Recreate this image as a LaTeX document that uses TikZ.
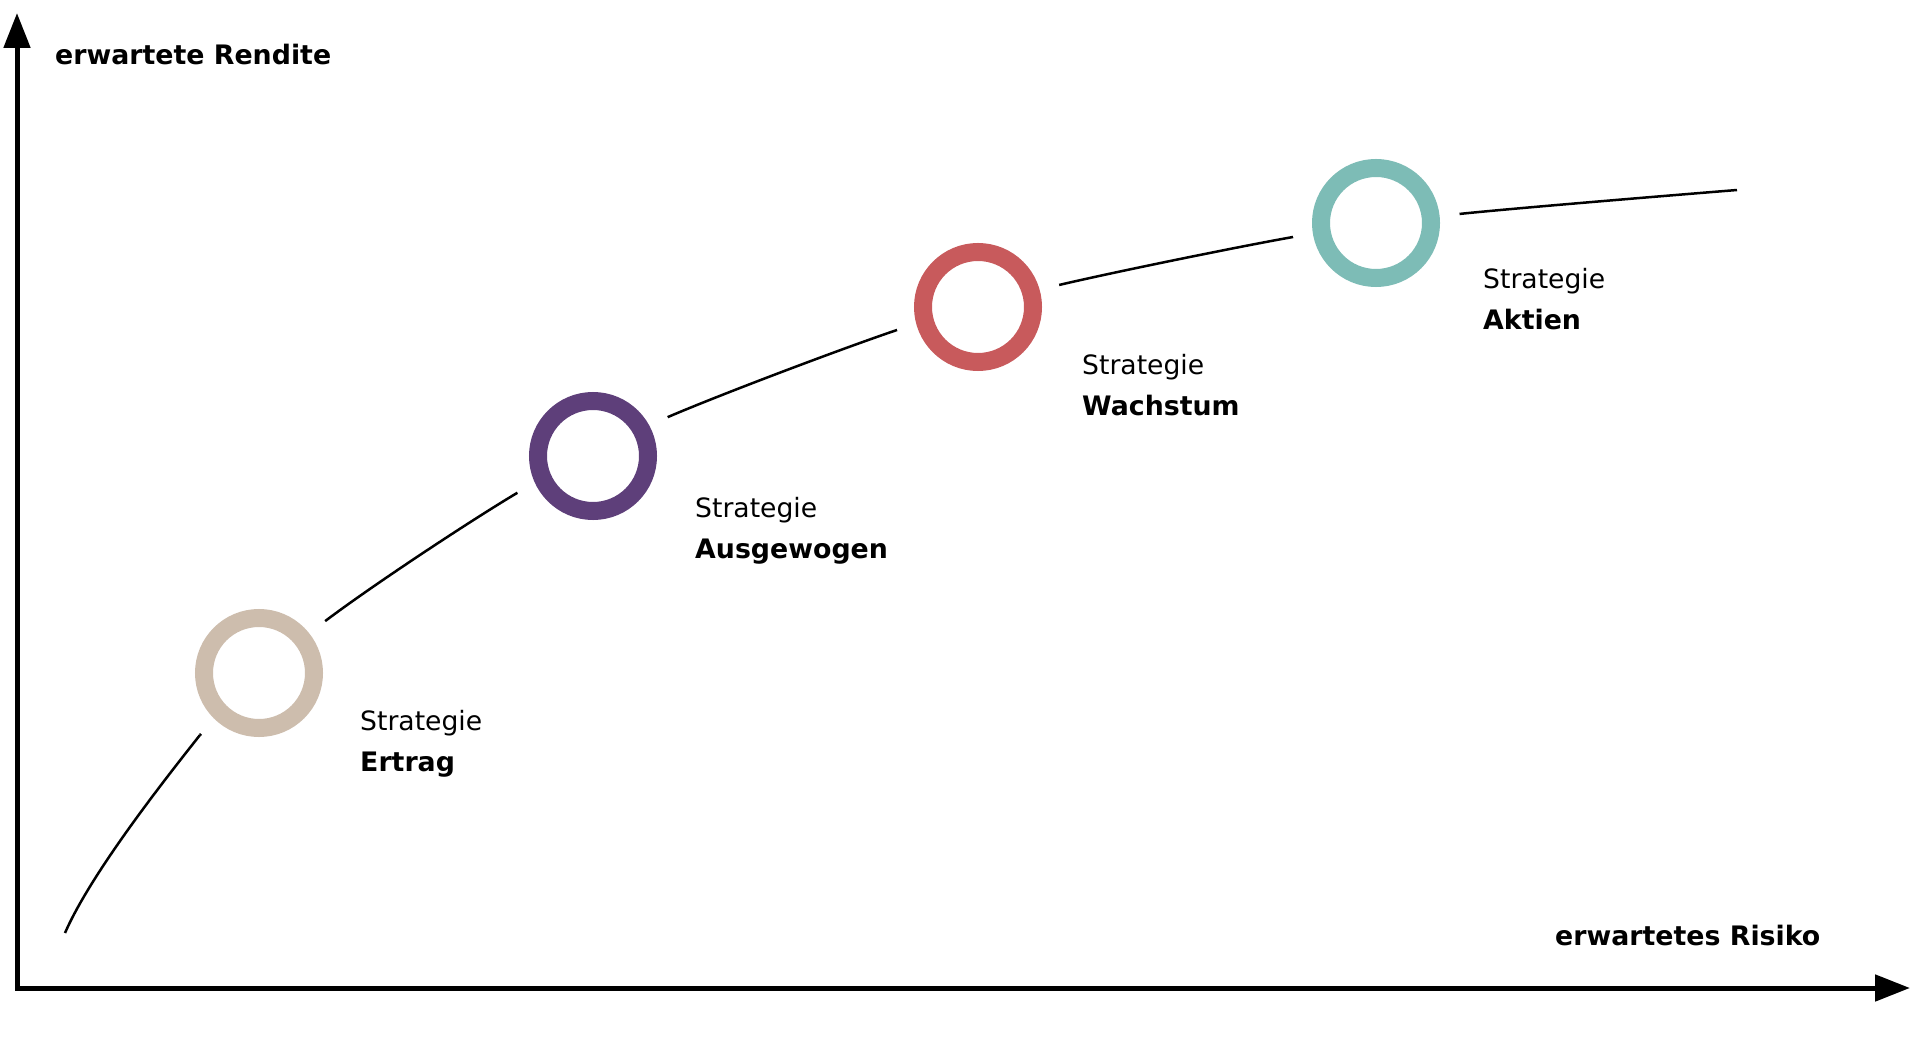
\documentclass[tikz,border=0pt]{standalone}
\usepackage{fontspec}
\setmainfont{DejaVu Sans}
\usetikzlibrary{arrows.meta}

\definecolor{ertragcol}{RGB}{205,189,173}
\definecolor{ausgewogencol}{RGB}{94,63,122}
\definecolor{wachstumcol}{RGB}{200,90,92}
\definecolor{aktiencol}{RGB}{125,188,182}

\tikzstyle{axis}=[line width=5pt,line join=miter,
    {Triangle[length=35pt,width=26pt]}-{Triangle[length=35pt,width=26pt]}]
\tikzstyle{curve}=[line width=2.5pt]
\tikzstyle{ring}=[circle,minimum size=110pt,inner sep=0pt,line width=18pt,
    preaction={draw=white,fill=white,line width=58pt}]
\tikzstyle{axis label}=[font=\fontsize{26.8}{32}\selectfont\bfseries,
    anchor=base west,inner sep=0pt]
\tikzstyle{strategy label}=[font=\fontsize{26.6}{32}\selectfont,
    anchor=base west,inner sep=0pt]
\tikzstyle{strategy name}=[font=\fontsize{26.8}{32}\selectfont\bfseries,
    anchor=base west,inner sep=0pt]
\newcommand{\strategy}[4]{
    \node[ring,draw=#2] (#1 ring) at (#1) {};
    \node[strategy label] (#1 top) at (#3) {Strategie};
    \node[strategy name] (#1 name) at ([yshift=-41pt]#1 top.base west) {#4};
}

\begin{document}
\begin{tikzpicture}[x=1pt,y=-1pt]
    \useasboundingbox[fill=white] (0,0) rectangle (1920,1040);
    %
    \coordinate (origin) at (17,988);
    \coordinate (ytip) at (17,13);
    \coordinate (xtip) at (1910,988);
    \draw[axis] (ytip) -- (origin) -- (xtip);
    \node[axis label] (rendite) at (55,65) {erwartete Rendite};
    \node[axis label] (risiko) at (1555,945) {erwartetes Risiko};
    %
    \coordinate (ertrag) at (259,673);
    \coordinate (ausgewogen) at (593,456);
    \coordinate (wachstum) at (978,307);
    \coordinate (aktien) at (1376,223);
    \draw[curve] (65,933) .. controls (91,873) and (166,778) .. (200,735);
    \draw[curve] plot[smooth] coordinates
        {(200,735) (324,622) (517,493) (668,417)
         (897,330) (1059,285) (1293,237) (1459,214) (1737,190)};
    %
    \strategy{ertrag}{ertragcol}{360,730}{Ertrag}
    \strategy{ausgewogen}{ausgewogencol}{695,517}{Ausgewogen}
    \strategy{wachstum}{wachstumcol}{1082,375}{Wachstum}
    \strategy{aktien}{aktiencol}{1483,289}{Aktien}
\end{tikzpicture}
\end{document}
